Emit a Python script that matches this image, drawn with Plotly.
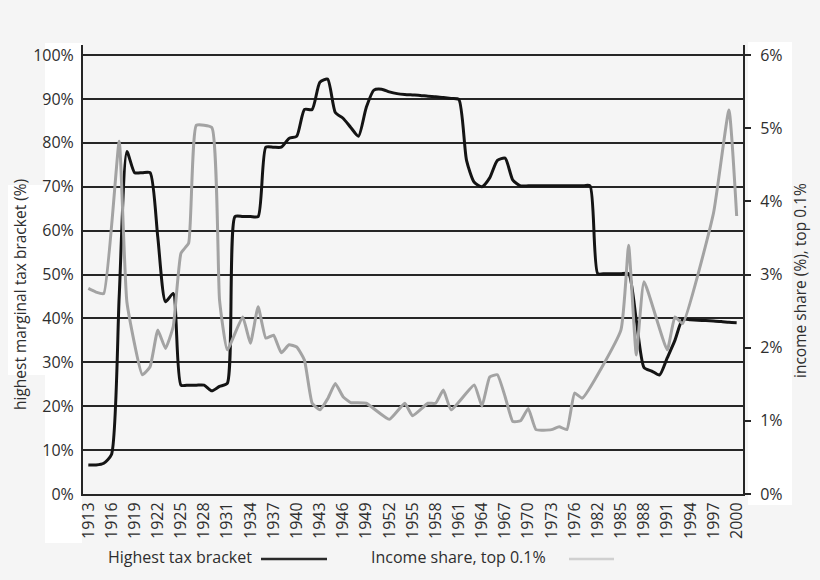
import plotly.graph_objects as go

# ---- data (years as plotted on the chart's category axis) ----
tax_years = [1913, 1914, 1915, 1916, 1917, 1918, 1919, 1920, 1921, 1922, 1923, 1924,
             1925, 1926, 1927, 1928, 1929, 1930, 1931, 1932, 1933, 1934, 1935, 1936,
             1937, 1938, 1939, 1940, 1941, 1942, 1943, 1944, 1945, 1946, 1947, 1948,
             1949, 1950, 1951, 1952, 1953, 1954, 1955, 1956, 1957, 1958, 1959, 1960,
             1961, 1962, 1963, 1964, 1965, 1966, 1967, 1968, 1969, 1970, 1971, 1972,
             1973, 1974, 1975, 1976, 1980, 1981, 1982, 1983, 1984, 1985, 1986, 1987,
             1988, 1989, 1990, 1991, 1992, 1993, 1994, 1995, 1996, 1997, 1998, 1999, 2000]
tax_rate = [6.6, 6.6, 7.0, 9.0, 45.0, 78.0, 73.2, 73.2, 73.2, 58.5, 43.8, 45.7,
            24.8, 24.8, 24.8, 24.8, 23.5, 24.5, 25.2, 63.2, 63.2, 63.2, 63.2, 79.0,
            79.0, 79.0, 81.0, 81.5, 87.6, 87.6, 93.8, 94.5, 86.9, 85.6, 83.5, 81.5,
            88.0, 92.0, 92.2, 91.6, 91.2, 91.0, 90.9, 90.8, 90.6, 90.5, 90.3, 90.1,
            89.9, 76.0, 71.0, 70.0, 72.0, 76.0, 76.5, 71.5, 70.2, 70.2, 70.2, 70.2,
            70.2, 70.2, 70.2, 70.2, 70.2, 70.2, 50.2, 50.2, 50.2, 50.2, 50.2, 39.5,
            28.8, 28.0, 27.1, 31.0, 35.0, 39.8, 39.7, 39.6, 39.5, 39.4, 39.3, 39.1, 39.0]

share_years = [1913, 1914, 1915, 1917, 1918, 1920, 1921, 1922, 1923, 1924, 1925, 1926,
               1927, 1929, 1930, 1931, 1933, 1934, 1935, 1936, 1937, 1938, 1939, 1940,
               1941, 1942, 1943, 1944, 1945, 1946, 1947, 1949, 1952, 1954, 1955, 1957,
               1958, 1959, 1960, 1963, 1964, 1965, 1966, 1967, 1968, 1969, 1970, 1971,
               1973, 1974, 1975, 1976, 1980, 1985, 1986, 1987, 1988, 1991, 1992, 1993,
               1997, 1999, 2000]
share_top01 = [2.81, 2.76, 2.74, 4.82, 2.62, 1.63, 1.74, 2.24, 1.99, 2.29, 3.29, 3.43,
               5.04, 5.01, 2.65, 1.97, 2.42, 2.06, 2.56, 2.13, 2.17, 1.93, 2.04, 2.01,
               1.83, 1.24, 1.15, 1.30, 1.51, 1.33, 1.25, 1.24, 1.02, 1.24, 1.07, 1.24,
               1.24, 1.42, 1.15, 1.49, 1.20, 1.60, 1.63, 1.33, 0.99, 1.00, 1.17, 0.88,
               0.88, 0.92, 0.88, 1.38, 1.31, 2.24, 3.40, 1.90, 2.90, 1.97, 2.42, 2.33,
               3.84, 5.25, 3.80]

tick_years = [1913, 1916, 1919, 1922, 1925, 1928, 1931, 1934, 1937, 1940, 1943, 1946,
              1949, 1952, 1955, 1958, 1961, 1964, 1967, 1970, 1973, 1976, 1982, 1985,
              1988, 1991, 1994, 1997, 2000]
left_ticks = [0, 10, 20, 30, 40, 50, 60, 70, 80, 90, 100]
right_ticks = [0, 1, 2, 3, 4, 5, 6]


def cat_pos(year):
    # category index on the chart's axis (years 1977-1979 are absent)
    return year - 1913 if year <= 1976 else year - 1916


FONT = "Open Sans"
DARK = "#262626"
TXT = "#2e2e2e"
BG = "#f5f5f5"
W, H = 660, 449          # plot area size in px
L, T = 83, 45            # plot area offset in px


def px(x):
    return (x - L) / W


def py(y):
    return (T + H - y) / H


fig = go.Figure()
fig.add_trace(go.Scatter(
    x=[cat_pos(y) for y in share_years], y=share_top01, yaxis="y2",
    mode="lines", line=dict(color="#a3a3a3", width=3, shape="spline", smoothing=0.4),
    name="Income share, top 0.1%", showlegend=False, hoverinfo="skip"))
fig.add_trace(go.Scatter(
    x=[cat_pos(y) for y in tax_years], y=tax_rate,
    mode="lines", line=dict(color="#141414", width=3, shape="spline", smoothing=0.6),
    name="Highest tax bracket", showlegend=False, hoverinfo="skip"))

fig.update_layout(
    width=820, height=580,
    margin=dict(l=L, r=820 - L - W, t=T, b=580 - T - H),
    paper_bgcolor=BG, plot_bgcolor=BG,
    font=dict(family=FONT, size=16, color=TXT),
    xaxis=dict(
        range=[-0.69, 84.82],
        tickmode="array",
        tickvals=[cat_pos(y) for y in tick_years],
        ticktext=[str(y) for y in tick_years],
        tickangle=-90, tickfont=dict(size=16, family=FONT, color=TXT),
        showgrid=False, zeroline=False,
        showline=True, linecolor=DARK, linewidth=2,
        ticks="", fixedrange=True,
    ),
    yaxis=dict(
        range=[0, 102.28],
        tickmode="array", tickvals=left_ticks,
        ticktext=[f"{v}%" for v in left_ticks],
        tickfont=dict(size=16, family=FONT, color=TXT),
        showgrid=True, gridcolor=DARK, gridwidth=1.6,
        zeroline=False, showline=True, linecolor=DARK, linewidth=2,
        ticks="", ticklabelstandoff=4, fixedrange=True,
    ),
    yaxis2=dict(
        range=[0, 6.137], overlaying="y", side="right",
        tickmode="array", tickvals=right_ticks,
        ticktext=[f"{v}%" for v in right_ticks],
        tickfont=dict(size=16, family=FONT, color=TXT),
        showgrid=False, zeroline=False,
        showline=True, linecolor=DARK, linewidth=2,
        ticks="outside", ticklen=6, tickwidth=1.6, tickcolor=DARK,
        ticklabelstandoff=6, fixedrange=True,
    ),
    shapes=[
        # white patches behind tick-label columns (as in the reference image)
        dict(type="rect", xref="paper", yref="paper", layer="below",
             x0=px(45), x1=px(82), y0=py(543), y1=py(43),
             fillcolor="white", line=dict(width=0)),
        dict(type="rect", xref="paper", yref="paper", layer="below",
             x0=px(8), x1=px(45), y0=py(375), y1=py(185),
             fillcolor="white", line=dict(width=0)),
        dict(type="rect", xref="paper", yref="paper", layer="below",
             x0=px(748), x1=px(792), y0=py(505), y1=py(42),
             fillcolor="white", line=dict(width=0)),
        # legend line samples
        dict(type="line", xref="paper", yref="paper",
             x0=px(261), x1=px(327), y0=py(559), y1=py(559),
             line=dict(color="#2a2a2a", width=2.5)),
        dict(type="line", xref="paper", yref="paper",
             x0=px(569), x1=px(614), y0=py(559), y1=py(559),
             line=dict(color="#d0d0d0", width=2.5)),
    ],
    annotations=[
        dict(text="highest marginal tax bracket (%)", textangle=-90,
             xref="paper", yref="paper", x=px(20), y=py(295),
             showarrow=False, xanchor="center", yanchor="middle",
             font=dict(size=15.5, family=FONT, color=TXT)),
        dict(text="income share (%), top 0.1%", textangle=-90,
             xref="paper", yref="paper", x=px(800), y=py(281),
             showarrow=False, xanchor="center", yanchor="middle",
             font=dict(size=15.5, family=FONT, color=TXT)),
        dict(text="Highest tax bracket", xref="paper", yref="paper",
             x=px(106), y=py(557), showarrow=False,
             xanchor="left", yanchor="middle",
             font=dict(size=16, family=FONT, color=TXT)),
        dict(text="Income share, top 0.1%", xref="paper", yref="paper",
             x=px(369), y=py(557), showarrow=False,
             xanchor="left", yanchor="middle",
             font=dict(size=16, family=FONT, color=TXT)),
    ],
)

fig.write_html(
    "out.html",
    config={"displayModeBar": False},
    post_script="document.body.style.margin='0';document.body.style.background='#f5f5f5';",
)
